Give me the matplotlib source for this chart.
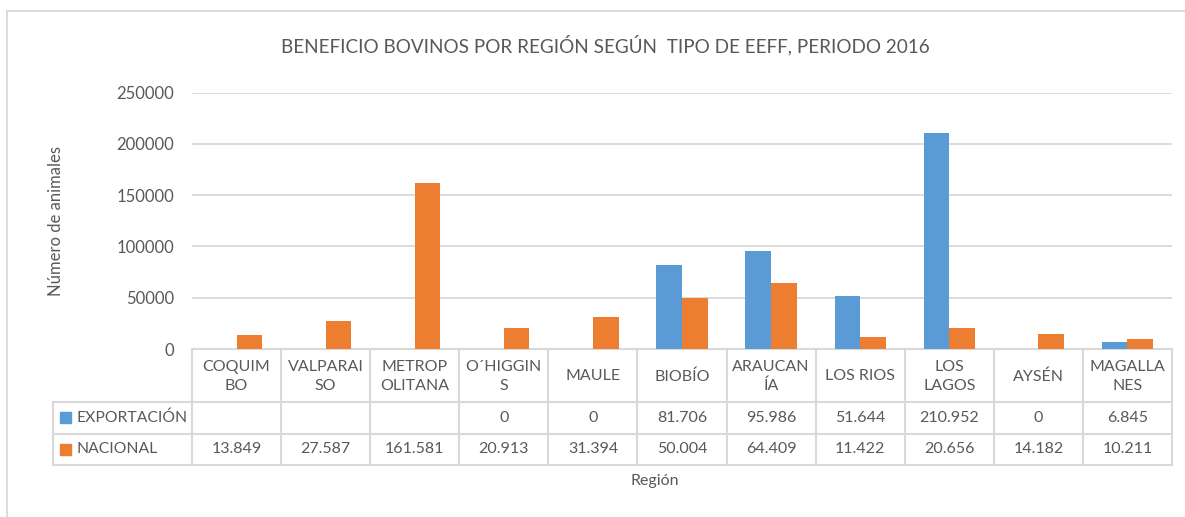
import numpy as np
import matplotlib
matplotlib.use("Agg")
import matplotlib.pyplot as plt
from matplotlib.transforms import blended_transform_factory

# ---------------
# data
# ---------------
regiones = ["COQUIM\nBO", "VALPARAI\nSO", "METROP\nOLITANA", "O\u00b4HIGGIN\nS", "MAULE",
            "BIOB\u00cdO", "ARAUCAN\n\u00cdA", "LOS RIOS", "LOS\nLAGOS", "AYS\u00c9N", "MAGALLA\nNES"]
exportacion = [None, None, None, 0, 0, 81706, 95986, 51644, 210952, 0, 6845]
nacional = [13849, 27587, 161581, 20913, 31394, 50004, 64409, 11422, 20656, 14182, 10211]
series_names = ["EXPORTACI\u00d3N", "NACIONAL"]
y_ticks = [0, 50000, 100000, 150000, 200000, 250000]

BLUE = "#5B9BD5"
ORANGE = "#ED7D31"
GRID = "#D9D9D9"
TXT = "#595959"
FONT = "Lato"

W, H = 1185, 517
fig = plt.figure(figsize=(W / 100, H / 100), dpi=100)
plt.rcParams["font.family"] = [FONT, "DejaVu Sans"]

# overlay axes in pixel coords (0,0 top-left)
ov = fig.add_axes([0, 0, 1, 1], zorder=0)
ov.set_xlim(0, W)
ov.set_ylim(H, 0)
ov.axis("off")

# plot area
left, right, top, bottom = 192, 1172, 92.5, 349
ax = fig.add_axes([left / W, 1 - bottom / H, (right - left) / W, (bottom - top) / H], zorder=1)
ax.patch.set_alpha(0)

x = np.arange(len(regiones))
bw = 0.288
exp_vals = np.array([np.nan if v is None else v for v in exportacion], dtype=float)
ax.bar(x - bw / 2, np.nan_to_num(exp_vals), bw, color=BLUE, zorder=3)
ax.bar(x + bw / 2, nacional, bw, color=ORANGE, zorder=3)

ax.set_xlim(-0.5, len(regiones) - 0.5)
ax.set_ylim(0, 250000)
ax.set_yticks(y_ticks)
ax.set_yticklabels([str(t) for t in y_ticks], fontsize=12, color=TXT)
ax.tick_params(axis="y", length=0, pad=13)
ax.tick_params(axis="x", length=0, labelbottom=False)
ax.grid(axis="y", color=GRID, linewidth=1.3, zorder=0)
for s in ax.spines.values():
    s.set_visible(False)

# chart frame
ov.plot([7, 7], [11, H], color=GRID, lw=1.3)
ov.plot([7, W], [11, 11], color=GRID, lw=1.3)

# title and axis titles
ov.text(605, 45, "BENEFICIO BOVINOS POR REGI\u00d3N SEG\u00daN  TIPO DE EEFF, PERIODO 2016",
        ha="center", va="center", fontsize=13.6, color=TXT)
ov.text(56, 221, "N\u00famero de animales", rotation=90, ha="center", va="center",
        fontsize=12, color=TXT)
ov.text(655, 481, "Regi\u00f3n", ha="center", va="center", fontsize=11.5, color=TXT)

# data table
tr = blended_transform_factory(ax.transData, ov.transData)
y_head, y_r1, y_r2, y_end = 349, 402, 433.5, 465
lw = 1.5
for k in range(len(regiones) + 1):
    ov.plot([k - 0.5, k - 0.5], [y_head, y_end], color=GRID, lw=lw, transform=tr)
ov.plot([-0.5, len(regiones) - 0.5], [y_head, y_head], color=GRID, lw=lw, transform=tr)
for yy in (y_r1, y_r2, y_end):
    ov.plot([53, right], [yy, yy], color=GRID, lw=lw)
ov.plot([53, 53], [y_r1, y_end], color=GRID, lw=lw)

for i, lab in enumerate(regiones):
    ov.text(i, (y_head + y_r1) / 2 + 1, lab, ha="center", va="center", fontsize=11.5,
            color=TXT, transform=tr, linespacing=1.4)


def fmt(v):
    if v is None:
        return ""
    return f"{v:,.0f}".replace(",", ".")


for row, (vals, name, col) in enumerate(zip([exportacion, nacional], series_names, [BLUE, ORANGE])):
    yc = (y_r1 + y_r2) / 2 if row == 0 else (y_r2 + y_end) / 2
    ov.add_patch(plt.Rectangle((60, yc - 5.5), 11, 11, color=col))
    ov.text(76, yc, name, ha="left", va="center", fontsize=11.3, color=TXT)
    for i, v in enumerate(vals):
        ov.text(i, yc, fmt(v), ha="center", va="center", fontsize=11.5, color=TXT, transform=tr)

fig.savefig("out.png", dpi=100)
